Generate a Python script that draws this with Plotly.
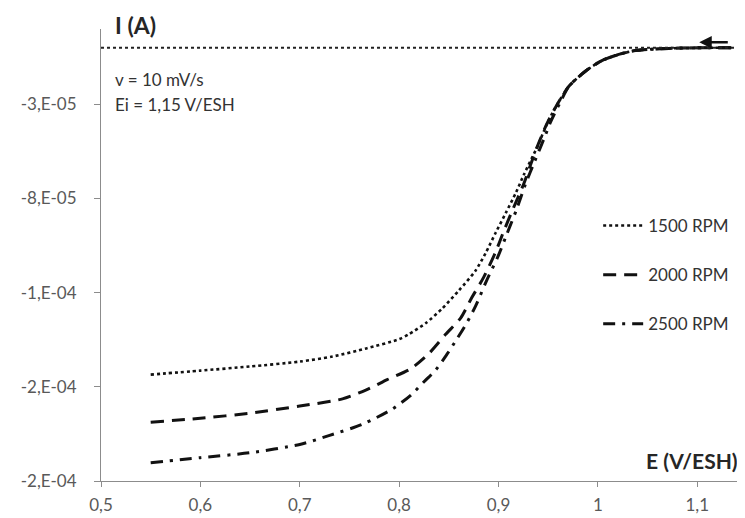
import plotly.graph_objects as go

# ---- data ----
e_1500 = [0.55, 0.60, 0.65, 0.70, 0.733, 0.767, 0.80, 0.81, 0.827, 0.843, 0.86, 0.877, 0.887, 0.897, 0.9075, 0.9176, 0.9257, 0.9377, 0.95, 0.958, 0.971, 0.988, 1.004, 1.021, 1.038, 1.071, 1.104, 1.135]
i_1500 = [-1.735e-4, -1.714e-4, -1.692e-4, -1.666e-4, -1.639e-4, -1.596e-4, -1.547e-4, -1.52e-4, -1.461e-4, -1.386e-4, -1.289e-4, -1.182e-4, -1.09e-4, -9.83e-5, -8.75e-5, -7.68e-5, -6.71e-5, -5.4e-5, -3.9e-5, -3.1e-5, -2.03e-5, -1.22e-5, -6.8e-6, -3.5e-6, -1.4e-6, -3e-7, 0.0, 0.0]

e_2000 = [0.55, 0.60, 0.65, 0.70, 0.743, 0.767, 0.788, 0.812, 0.83, 0.847, 0.862, 0.873, 0.885, 0.897, 0.905, 0.913, 0.926, 0.9316, 0.9397, 0.9487, 0.958, 0.971, 0.988, 1.004, 1.021, 1.038, 1.071, 1.104, 1.135]
i_2000 = [-1.988e-4, -1.967e-4, -1.94e-4, -1.902e-4, -1.864e-4, -1.816e-4, -1.762e-4, -1.703e-4, -1.623e-4, -1.52e-4, -1.434e-4, -1.327e-4, -1.219e-4, -1.085e-4, -9.77e-5, -8.75e-5, -7.14e-5, -6.3e-5, -5.15e-5, -4.02e-5, -3.1e-5, -2.03e-5, -1.22e-5, -6.8e-6, -3.5e-6, -1.4e-6, -3e-7, 0.0, 0.0]

e_2500 = [0.55, 0.60, 0.65, 0.70, 0.73, 0.763, 0.793, 0.812, 0.825, 0.837, 0.848, 0.858, 0.868, 0.877, 0.888, 0.90, 0.908, 0.918, 0.927, 0.9365, 0.9457, 0.953, 0.962, 0.971, 0.988, 1.004, 1.021, 1.038, 1.071, 1.104, 1.135]
i_2500 = [-2.203e-4, -2.176e-4, -2.15e-4, -2.106e-4, -2.058e-4, -1.999e-4, -1.918e-4, -1.843e-4, -1.773e-4, -1.709e-4, -1.628e-4, -1.547e-4, -1.461e-4, -1.37e-4, -1.236e-4, -1.101e-4, -9.94e-5, -8.6e-5, -7.25e-5, -6.01e-5, -4.83e-5, -3.86e-5, -2.9e-5, -2.03e-5, -1.22e-5, -6.8e-6, -3.5e-6, -1.4e-6, -3e-7, 0.0, 0.0]

x_ticks = [0.5, 0.6, 0.7, 0.8, 0.9, 1.0, 1.1]
x_tick_labels = ["0,5", "0,6", "0,7", "0,8", "0,9", "1", "1,1"]
y_ticks = [-2.3e-4, -1.8e-4, -1.3e-4, -8e-5, -3e-5]
y_tick_labels = ["-2,E-04", "-2,E-04", "-1,E-04", "-8,E-05", "-3,E-05"]

FONT = "Lato"
fig = go.Figure()

fig.add_trace(go.Scatter(x=e_1500, y=i_1500, mode="lines", name="1500 RPM",
                         legendgroup="a", line=dict(color="#111111", width=2.6, dash="dot",
                                                    shape="spline", smoothing=0.7)))
fig.add_trace(go.Scatter(x=e_2000, y=i_2000, mode="lines", name="2000 RPM",
                         legendgroup="b", line=dict(color="#111111", width=3, dash="13px,8px",
                                                    shape="spline", smoothing=0.7)))
fig.add_trace(go.Scatter(x=e_2500, y=i_2500, mode="lines", name="2500 RPM",
                         legendgroup="c", line=dict(color="#111111", width=3, dash="12px,7px,3px,7px",
                                                    shape="spline", smoothing=0.7)))

# zero line (dotted)
fig.add_shape(type="line", xref="paper", x0=0, x1=1, yref="y", y0=0, y1=0,
              line=dict(color="#222222", width=2, dash="dot"))

# scan direction arrow
fig.add_annotation(x=1.102, y=3e-6, ax=30, ay=0, xref="x", yref="y", text="",
                   showarrow=True, arrowhead=2, arrowsize=1, arrowwidth=2.5, arrowcolor="#111111")

fig.add_annotation(xref="paper", yref="paper", x=0.018, y=1.009, xanchor="left", yanchor="middle",
                   text="<b>I (A)</b>", showarrow=False, font=dict(family=FONT, size=23, color="#262626"))
fig.add_annotation(xref="paper", yref="paper", x=0.992, y=0.046, xanchor="right", yanchor="middle",
                   text="<b>E (V/ESH)</b>", showarrow=False, font=dict(family=FONT, size=21, color="#262626"))
fig.add_annotation(xref="paper", yref="paper", x=0.018, y=0.889, xanchor="left", yanchor="middle",
                   text="v = 10 mV/s", showarrow=False, font=dict(family=FONT, size=17, color="#333333"))
fig.add_annotation(xref="paper", yref="paper", x=0.018, y=0.834, xanchor="left", yanchor="middle",
                   text="Ei = 1,15 V/ESH", showarrow=False, font=dict(family=FONT, size=17, color="#333333"))

# page body has an 8px margin: size figure so the plot lands where the reference has it
fig.update_layout(
    width=737, height=510,
    margin=dict(l=93, r=0, t=21, b=37),
    paper_bgcolor="white", plot_bgcolor="white",
    showlegend=True,
    legend=dict(x=0.772, y=0.604, xanchor="left", yanchor="top", tracegroupgap=24,
                traceorder="grouped", bgcolor="rgba(0,0,0,0)",
                font=dict(family=FONT, size=17, color="#333333"), itemwidth=40),
    xaxis=dict(range=[0.5, 1.148], tickvals=x_ticks, ticktext=x_tick_labels,
               showgrid=False, zeroline=False, showline=True, linecolor="#8c8c8c", linewidth=1,
               ticks="outside", ticklen=5, tickcolor="#8c8c8c", ticklabelstandoff=4,
               tickfont=dict(family=FONT, size=17, color="#595959")),
    yaxis=dict(range=[-2.3e-4, 1e-5], tickvals=y_ticks, ticktext=y_tick_labels,
               showgrid=False, zeroline=False, showline=True, linecolor="#8c8c8c", linewidth=1,
               ticks="outside", ticklen=6, tickcolor="#8c8c8c", ticklabelstandoff=14,
               tickfont=dict(family=FONT, size=17, color="#595959")),
)

fig.write_html("out.html")
